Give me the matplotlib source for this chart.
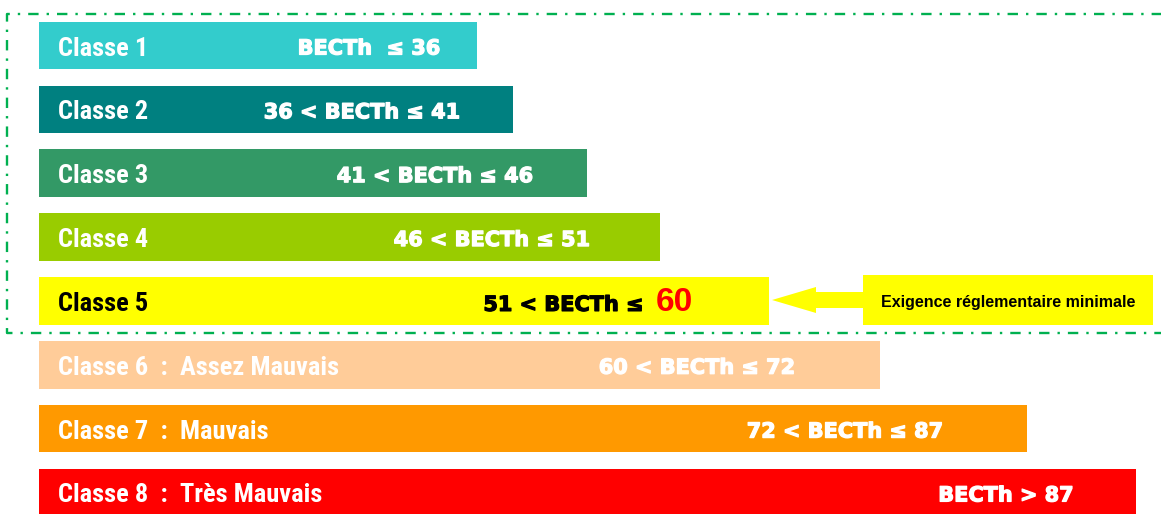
import numpy as np
import matplotlib.pyplot as plt
import matplotlib.patheffects as pe
from matplotlib.patches import Rectangle

# Données : classes BECTh
classes = ["Classe 1", "Classe 2", "Classe 3", "Classe 4", "Classe 5",
           "Classe 6  :  Assez Mauvais", "Classe 7  :  Mauvais", "Classe 8  :  Très Mauvais"]
seuils = ["BECTh  ≤ 36", "36 < BECTh ≤ 41", "41 < BECTh ≤ 46", "46 < BECTh ≤ 51",
          "51 < BECTh ≤ ", "60 < BECTh ≤ 72", "72 < BECTh ≤ 87", "BECTh > 87"]
seuil_min = "60"
# longueur des barres
longueurs = [438, 474, 548, 621, 730, 841, 988, 1097]
couleurs = ["#33CCCC", "#008080", "#339966", "#99CC00", "#FFFF00", "#FFCC99", "#FF9900", "#FF0000"]
couleurs_texte = ["white", "white", "white", "white", "black", "white", "white", "white"]
exigence = "Exigence réglementaire minimale"

# position horizontale du texte de seuil (centre)
x_seuil = [369, 362, 435, 492, 651, 697, 845, 1006]

police_classe = ['Roboto Condensed', 'Liberation Sans Narrow', 'Liberation Sans']
police_seuil = ['DejaVu Sans']
police_normale = ['Liberation Sans', 'DejaVu Sans']

fig = plt.figure(figsize=(11.61, 5.14), dpi=100)
ax = fig.add_axes([0, 0, 1, 1])
ax.set_xlim(0, 1161)
ax.set_ylim(514, 0)
ax.axis('off')

gauche = 39
y = 45.5 + 63.85 * np.arange(len(classes))
ax.barh(y, longueurs, height=47.5, left=gauche, color=couleurs, zorder=2)

for i in range(len(classes)):
    ax.text(gauche + 19, y[i] + 3, classes[i], color=couleurs_texte[i], fontsize=19,
            fontweight='bold', family=police_classe, ha='left', va='center', zorder=3)
    # texte plus épais (effet "Arial Black")
    epais = [pe.withStroke(linewidth=0.9, foreground=couleurs_texte[i])]
    if i == 4:
        # classe 5 : seuil en rouge
        ax.text(x_seuil[i], y[i] + 4, seuils[i], color='black', fontsize=15,
                fontweight='bold', family=police_seuil, ha='right', va='center',
                path_effects=epais, zorder=3)
        ax.text(x_seuil[i] + 5, y[i] + 2, seuil_min, color='red', fontsize=24,
                fontweight='bold', family=police_normale, ha='left', va='center', zorder=3)
    else:
        ax.text(x_seuil[i], y[i] + 3, seuils[i], color=couleurs_texte[i], fontsize=15,
                fontweight='bold', family=police_seuil, ha='center', va='center',
                path_effects=epais, zorder=3)

# cadre vert en tirets-points
ax.plot([1170, 7, 7, 1170], [14, 14, 333, 333], color='#00B050', lw=1.7,
        linestyle=(0, (4.4, 3.4, 1.0, 3.4)), zorder=1, clip_on=True)

# flèche + encadré jaune
ax.arrow(863, 300, -91, 0, width=16, head_width=26, head_length=44,
         length_includes_head=True, color='#FFFF00', lw=0, zorder=2)
ax.add_patch(Rectangle((863, 275), 290, 50, color='#FFFF00', lw=0, zorder=2))
ax.text(1008, 302, exigence, color='black', fontsize=11.5, fontweight='bold',
        family=police_normale, ha='center', va='center', zorder=3)

fig.savefig('out.png', dpi=100)
